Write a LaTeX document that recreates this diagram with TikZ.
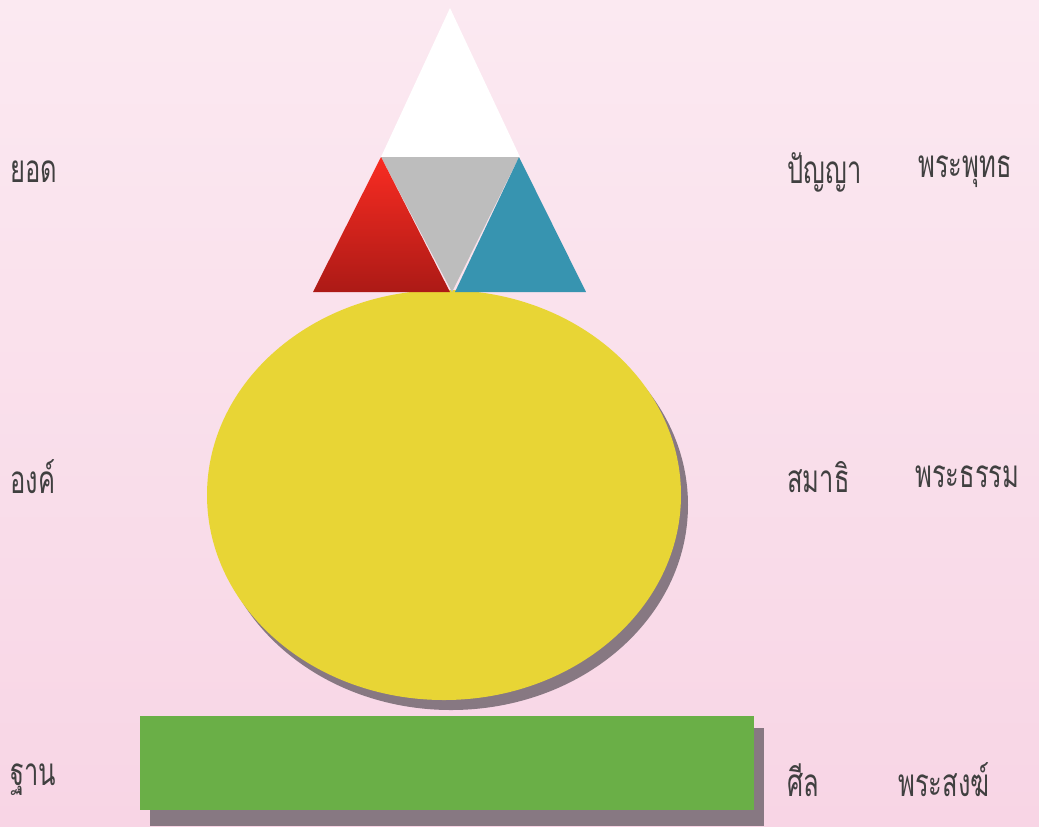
\documentclass[tikz,border=0pt]{standalone}
\usepackage{fontspec}
\newfontfamily\thaifont[Script=Thai,FakeStretch=0.66]{Loma}
\usepackage{tikz}
\usetikzlibrary{positioning}
\definecolor{PinkTop}{HTML}{FBE9F1}
\definecolor{PinkBot}{HTML}{F8D5E5}
\definecolor{PeakGray}{HTML}{BDBDBD}
\definecolor{RedTop}{HTML}{F92C22}
\definecolor{RedBot}{HTML}{AC1A16}
\definecolor{TealBlue}{HTML}{3794B0}
\definecolor{BellYellow}{HTML}{E8D535}
\definecolor{BaseGreen}{HTML}{6AAF47}
\definecolor{ShadeGray}{HTML}{7B6E78}
\definecolor{LabelInk}{HTML}{404040}
\tikzset{
  lbl/.style={font=\thaifont\fontsize{22}{26}\selectfont,text=LabelInk,anchor=west,inner sep=0pt},
  shadowfill/.style={fill=ShadeGray,opacity=.9}
}

\begin{document}
\begin{tikzpicture}[x=0.02cm,y=-0.02cm]
\useasboundingbox (0,0) rectangle (1039,826);
\shade[top color=PinkTop,bottom color=PinkBot] (0,0) rectangle (1039,826);
% base (sila)
\fill[shadowfill] (150,728) rectangle (764,826);
\fill[BaseGreen] (140,716) rectangle (754,810);
% bell (samadhi)
\fill[shadowfill] (451,505) ellipse [x radius=237,y radius=205];
\fill[BellYellow] (444,495) ellipse [x radius=237,y radius=205];
% top (panya)
\fill[white] (450,8) -- (520,157) -- (381,157) -- cycle;
\fill[PeakGray] (381,157) -- (519,157) -- (452,292) -- cycle;
\shade[top color=RedTop,bottom color=RedBot] (381,157) -- (450,292) -- (313,292) -- cycle;
\fill[TealBlue] (519,157) -- (586,292) -- (455,292) -- cycle;
% labels
\node[lbl] (yod) at (10,172) {ยอด};
\node[lbl] (ong) at (10,477) {องค์};
\node[lbl] (than) at (10,780) {ฐาน};
\node[lbl] (panya) at (787,172) {ปัญญา};
\node[lbl] (samadhi) at (787,477) {สมาธิ};
\node[lbl] (sila) at (787,780) {ศีล};
\node[lbl] (buddha) at (918,172) {พระพุทธ};
\node[lbl] (dhamma) at (915,477) {พระธรรม};
\node[lbl] (sangha) at (898,780) {พระสงฆ์};
\end{tikzpicture}
\end{document}
